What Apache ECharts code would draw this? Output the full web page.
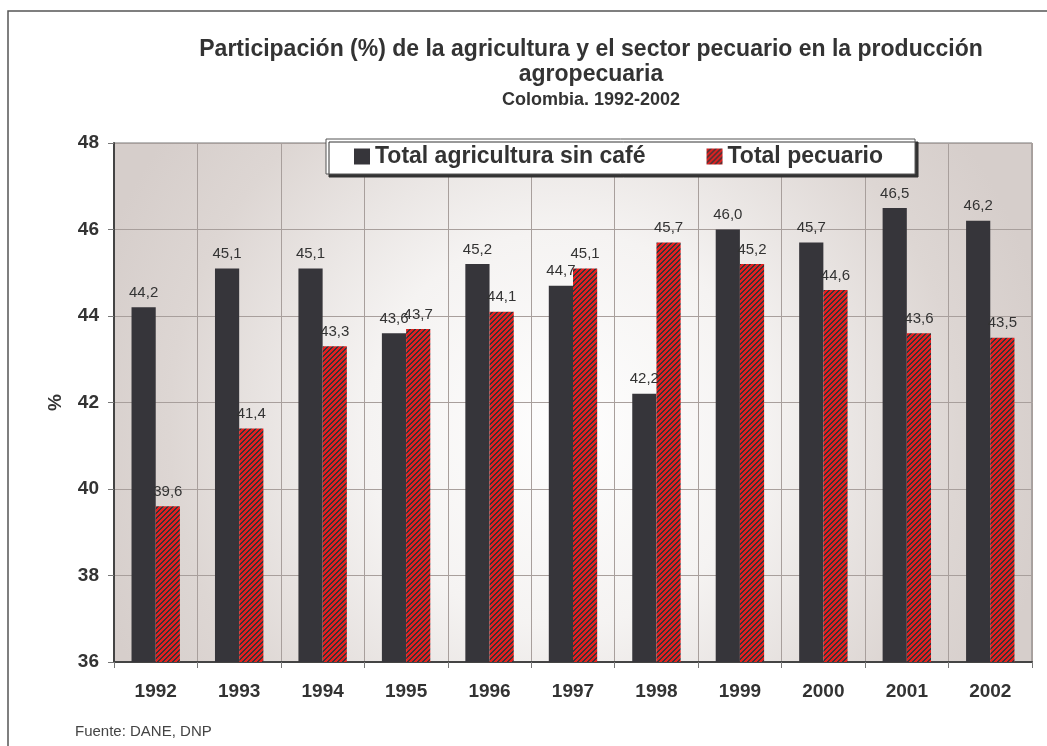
<!DOCTYPE html>
<html lang="es">
<head>
<meta charset="UTF-8">
<title>Participación agricultura y pecuario</title>
<script src="https://cdn.jsdelivr.net/npm/echarts@6/dist/echarts.min.js"></script>
<style>
  html, body { margin: 0; padding: 0; background: #fff; }
  #chart { width: 1047px; height: 746px; }
</style>
</head>
<body>
<div id="chart"></div>
<script>
  // datos
  var years = ['1992', '1993', '1994', '1995', '1996', '1997', '1998', '1999', '2000', '2001', '2002'];
  var agricultura = [44.2, 45.1, 45.1, 43.6, 45.2, 44.7, 42.2, 46.0, 45.7, 46.5, 46.2];
  var pecuario = [39.6, 41.4, 43.3, 43.7, 44.1, 45.1, 45.7, 45.2, 44.6, 43.6, 43.5];
  var yTicks = [36, 38, 40, 42, 44, 46, 48];

  var font = '"Liberation Sans", Arial, Helvetica, sans-serif';
  var dark = '#36353a';

  // trama rayada roja para el sector pecuario
  function stripes() {
    var c = document.createElement('canvas');
    c.width = 10; c.height = 10;
    var ctx = c.getContext('2d');
    for (var x = 0; x < 10; x++) {
      for (var y = 0; y < 10; y++) {
        ctx.fillStyle = ((x + y) % 5 < 3) ? '#e3201f' : dark;
        ctx.fillRect(x, y, 1, 1);
      }
    }
    return c;
  }
  var stripeFill = { image: stripes(), repeat: 'repeat' };

  function fmt(p) {
    return p.value.toFixed(1).replace('.', ',');
  }

  var myChart = echarts.init(document.getElementById('chart'));
  var option = {
    backgroundColor: '#fff',
    animation: false,
    title: {
      text: 'Participación (%) de la agricultura y el sector pecuario en la producción\nagropecuaria',
      subtext: 'Colombia. 1992-2002',
      left: 591,
      top: 37,
      padding: 0,
      textAlign: 'center',
      itemGap: 3,
      textStyle: { fontFamily: font, fontSize: 23, fontWeight: 'bold', color: '#333', lineHeight: 25 },
      subtextStyle: { fontFamily: font, fontSize: 18, fontWeight: 'bold', color: '#333', lineHeight: 20 }
    },
    legend: {
      left: 326,
      top: 139,
      padding: [6, 32, 6, 28],
      itemGap: 61,
      itemWidth: 16,
      itemHeight: 16,
      backgroundColor: '#fff',
      borderColor: '#555',
      borderWidth: 1,
      shadowColor: '#333',
      shadowBlur: 0,
      shadowOffsetX: 3,
      shadowOffsetY: 3,
      textStyle: { fontFamily: font, fontSize: 23, fontWeight: 'bold', color: '#333' },
      data: [
        { name: 'Total agricultura sin café', icon: 'rect' },
        { name: 'Total pecuario', icon: 'rect' }
      ]
    },
    grid: {
      left: 114,
      right: 15,
      top: 143,
      bottom: 84,
      show: true,
      borderColor: '#777',
      borderWidth: 1,
      backgroundColor: {
        type: 'radial', x: 0.49, y: 0.55, r: 0.95,
        colorStops: [
          { offset: 0, color: '#fefefe' },
          { offset: 0.4, color: '#f5f3f2' },
          { offset: 0.8, color: '#ddd6d3' },
          { offset: 1, color: '#d6cecb' }
        ]
      }
    },
    xAxis: {
      type: 'category',
      data: years,
      axisLine: { lineStyle: { color: '#444', width: 2 } },
      axisTick: { show: true, length: 6, lineStyle: { color: '#777' } },
      axisLabel: { margin: 20, fontFamily: font, fontSize: 19, fontWeight: 'bold', color: '#333' },
      splitLine: { show: true, lineStyle: { color: '#a89f9c', width: 1 } }
    },
    yAxis: {
      type: 'value',
      min: yTicks[0],
      max: yTicks[yTicks.length - 1],
      interval: 2,
      name: '%',
      nameLocation: 'middle',
      nameGap: 49,
      nameRotate: 90,
      nameTextStyle: { fontFamily: font, fontSize: 19, fontWeight: 'bold', color: '#333' },
      axisLine: { show: true, lineStyle: { color: '#444', width: 2 } },
      axisTick: { show: true, length: 6, lineStyle: { color: '#777' } },
      axisLabel: { margin: 15, fontFamily: font, fontSize: 19, fontWeight: 'bold', color: '#333' },
      splitLine: { show: true, lineStyle: { color: '#a89f9c', width: 1 } }
    },
    series: [
      {
        name: 'Total agricultura sin café',
        type: 'bar',
        data: agricultura,
        barGap: '0%',
        barCategoryGap: '42%',
        itemStyle: { color: dark },
        label: { show: true, position: 'top', distance: 7, formatter: fmt, fontFamily: font, fontSize: 15, color: '#333' }
      },
      {
        name: 'Total pecuario',
        type: 'bar',
        data: pecuario,
        barGap: '0%',
        barCategoryGap: '42%',
        itemStyle: { color: stripeFill },
        label: { show: true, position: 'top', distance: 7, formatter: fmt, fontFamily: font, fontSize: 15, color: '#333' }
      }
    ],
    graphic: [
      {
        type: 'rect',
        z: -1,
        silent: true,
        shape: { x: 8, y: 11, width: 1200, height: 900 },
        style: { fill: 'none', stroke: '#555', lineWidth: 1.5 }
      },
      {
        type: 'text',
        left: 75,
        top: 724,
        style: { text: 'Fuente: DANE, DNP', font: '15px ' + font, fill: '#444' }
      }
    ]
  };
  myChart.setOption(option);
</script>
</body>
</html>
